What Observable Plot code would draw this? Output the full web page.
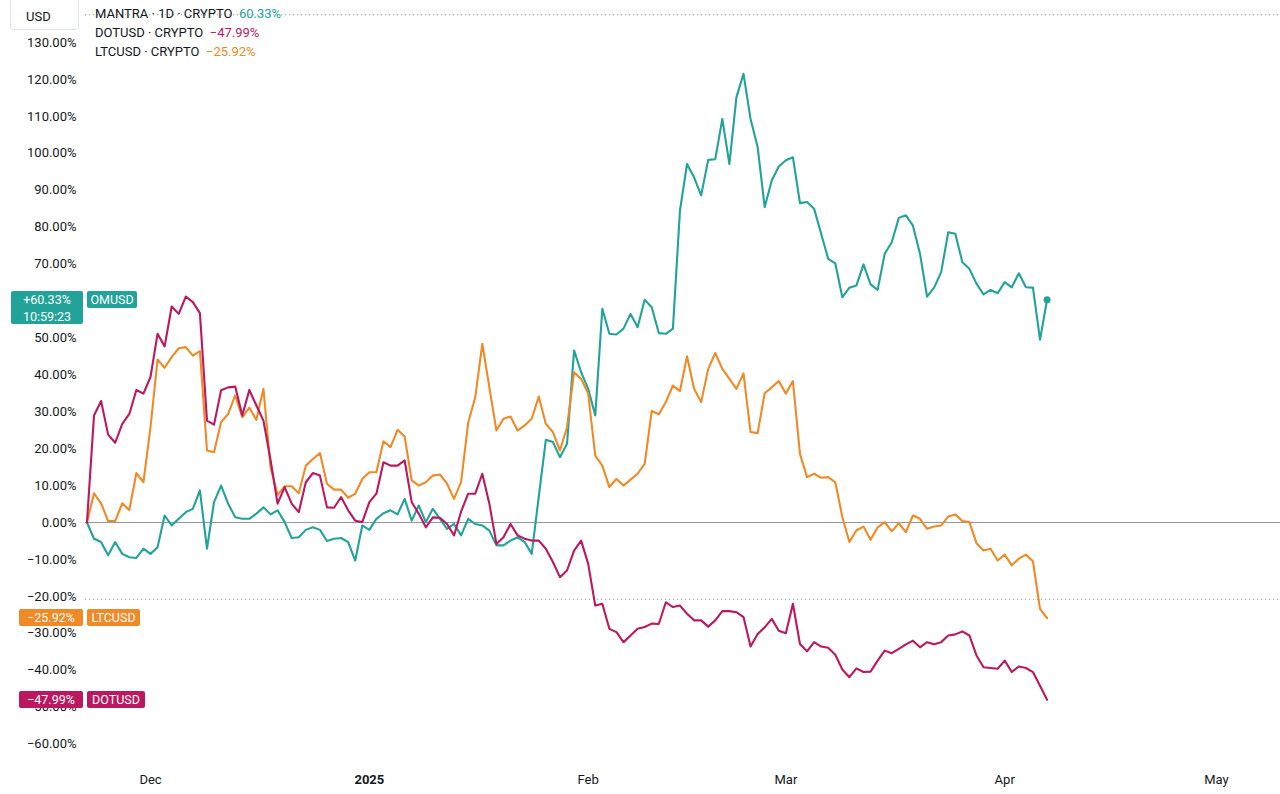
<!DOCTYPE html>
<html>
<head>
<meta charset="utf-8">
<script src="https://cdn.jsdelivr.net/npm/d3@7"></script>
<script src="https://cdn.jsdelivr.net/npm/@observablehq/plot@0.6"></script>
<style>
  html, body { margin: 0; padding: 0; background: #fff; }
  #wrap { position: relative; width: 1280px; height: 794px; overflow: hidden; font-family: Roboto, "Liberation Sans", sans-serif; color: #131722; }
  .lbl { position: absolute; color: #fff; font-size: 12.5px; text-align: center; border-radius: 2px; line-height: 17px; height: 17px; }
  .leg { position: absolute; left: 95px; font-size: 13px; white-space: pre; line-height: 16px; }
  #usd { position: absolute; left: 10px; top: -4px; width: 69px; height: 34px; border: 1px solid #e0e3eb; border-radius: 4px; font-size: 13px; line-height: 40px; padding-left: 15px; box-sizing: border-box; background: #fff; }
</style>
</head>
<body>
<div id="wrap"></div>
<script>
// ---- data (percent change since 2024-11-22, daily) ----
const startDate = "2024-11-22";
const seriesNames = ["OMUSD", "LTCUSD", "DOTUSD"];
const seriesColors = ["#22a39a", "#ef8a26", "#bc1860"];

const omValues = [0,-4.4,-5.3,-8.9,-5.3,-8.5,-9.4,-9.6,-7.1,-8.5,-6.7,1.9,-0.8,1,2.8,3.7,8.7,-7.1,5.5,10,5.1,1.4,1,1,2.4,4.1,2.2,3.3,0.1,-4.2,-4,-2,-1.3,-2,-5,-4.4,-4.2,-5.3,-10.3,-0.8,-2,1,2.5,3.3,2.2,6.4,0.5,4.6,0.1,3.7,1,-1.7,-0.4,-3.5,1,-0.4,-0.8,-2.2,-6.2,-6.2,-4.9,-4,-5.3,-8.5,7,22.4,21.8,17.7,21.3,46.6,40.7,36.2,29,57.9,51.1,50.9,52.5,56.5,52.9,60.3,58.3,51.3,51.1,52.5,84.5,97.1,93.5,88.6,98.2,98.4,109.3,97.1,115.2,121.5,109.3,101.7,85.4,92.6,96.4,98.1,98.9,86.5,86.8,85,78.2,71.4,70.2,61,63.6,64.2,69.9,64.5,63,72.8,75.9,82.5,83.2,80.4,72.8,61.2,63.6,67.8,78.6,78.2,70.5,68.7,64.7,61.8,63,62.1,65.1,63.7,67.5,63.7,63.6,49.5,60.33];

const ltcValues = [0,7.9,5.2,0.4,0.4,5.2,3.4,13.4,10.9,25.8,44.1,41.9,44.8,47.2,47.5,45.2,46.4,19.5,19,27.2,29.4,34.4,28.5,31.1,27.8,36.2,15,7.5,9.8,9.8,7.9,15.4,17.2,18.8,10.5,8.9,8.9,6.7,7.8,11.8,13.6,13.6,22,20.4,25.1,23.3,11.4,10,10.9,12.7,13,10.5,6.4,11,27,33.9,48.4,36.6,24.9,28.1,28.7,24.9,26.3,28.1,34.1,26.7,24.5,19.5,25.8,40.7,38.9,34.9,18.1,15.4,9.6,11.8,10,11.6,13.2,15.9,30.2,29.3,32.6,37.1,35.6,45,36.2,32.6,41.6,45.9,41.6,38.9,36.2,40.4,24.5,24.2,35,36.6,38.3,34.9,38.3,18.6,12.3,13.2,12.1,12.3,10.9,1.5,-5.3,-2.1,-1.1,-4.7,-1.3,0.1,-2.4,-0.2,-2.6,1.9,1,-1.7,-1.1,-0.8,1.6,2.2,0.4,0.1,-5.6,-7.6,-7.1,-10.3,-8.7,-11.6,-9.8,-8.7,-10.5,-23.4,-25.92];

const dotValues = [0,29,32.9,23.8,21.6,26.7,29.4,35.9,34.9,39.4,51.1,47.7,58.5,56.5,61.2,59.7,56.7,27.6,26.5,35.8,36.6,36.8,29,35.9,31.7,27.6,17,5.1,9.6,5.1,2.8,10.9,13.4,12.7,4.1,4,6.9,3.3,0.5,0.1,5.5,7.8,16.3,15.4,15.4,16.8,5.5,2.4,-1.3,1.4,1.3,-0.4,-3.5,3,7.8,7.8,13.2,5.1,-5.8,-4,-0.4,-3.5,-4.4,-4.9,-4.9,-7.1,-10.7,-14.8,-13,-7.6,-4.9,-11.2,-22.5,-22,-28.8,-29.7,-32.4,-30.6,-28.8,-28.3,-27.4,-27.5,-21.6,-22.9,-22.5,-24.7,-26.5,-26.5,-28.2,-26.5,-24,-24,-24.3,-25.6,-33.6,-30.2,-28.4,-26.1,-29.3,-30,-22,-32.9,-34.9,-32.4,-33.6,-33.9,-35.8,-39.8,-41.9,-39.5,-40.5,-40.4,-37.4,-34.7,-35.4,-34.2,-33,-32,-33.8,-32.4,-33,-32.4,-30.6,-30.3,-29.5,-30.6,-36,-39.2,-39.4,-39.6,-37.4,-40.5,-39,-39.4,-40.5,-44.2,-47.99];

// 60.00% is hidden behind the OMUSD price label in the reference
const yTicks = [-60,-50,-40,-30,-20,-10,0,10,20,30,40,50,70,80,90,100,110,120,130];
const xTicks = ["2024-12-01","2025-02-01","2025-03-01","2025-04-01","2025-05-01"];
const xYearTick = ["2025-01-01"];
const xYearLabel = "2025";
const dottedLevels = [137.5, -20.8];
const countdown = "10:59:23";
const legendLines = [
  {prefix: "MANTRA · 1D · CRYPTO", name: "OMUSD"},
  {prefix: "DOTUSD · CRYPTO", name: "DOTUSD"},
  {prefix: "LTCUSD · CRYPTO", name: "LTCUSD"}
];

// ---- build table ----
const allValues = [omValues, ltcValues, dotValues];
const t0 = new Date(startDate + "T00:00:00Z");
const dates = omValues.map((_, i) => d3.utcDay.offset(t0, i));
const rows = [];
allValues.forEach((vals, s) => vals.forEach((v, i) => rows.push({date: dates[i], value: v, series: seriesNames[s]})));
const last = seriesNames.map((n, s) => ({series: n, date: dates[dates.length - 1], value: allValues[s][allValues[s].length - 1], color: seriesColors[s]}));
const colorOf = Object.fromEntries(seriesNames.map((n, i) => [n, seriesColors[i]]));

const fmtPct = v => (v < 0 ? "\u2212" : "") + Math.abs(v).toFixed(2) + "%";
const fmtSigned = v => (v < 0 ? "\u2212" : "+") + Math.abs(v).toFixed(2) + "%";

const W = 1280, H = 794;
const chart = Plot.plot({
  width: W,
  height: H,
  marginLeft: 85,
  marginRight: 0,
  marginTop: 0,
  marginBottom: 30,
  style: {fontFamily: "Roboto, 'Liberation Sans', sans-serif", fontSize: "13px", color: "#131722", background: "#fff"},
  x: {type: "utc", label: null, domain: [new Date("2024-12-01T00:00:00Z"), new Date("2025-05-01T00:00:00Z")], range: [150, 1216]},
  y: {label: null, domain: [0, 130], range: [522, 42]},
  marks: [
    Plot.ruleY(dottedLevels, {stroke: "#9598a1", strokeWidth: 1, strokeDasharray: "1.2,2.8"}),
    Plot.ruleY([last[0].value], {x1: 140, stroke: seriesColors[0], strokeWidth: 1, strokeDasharray: "1.2,2.8"}),
    Plot.ruleY([0], {stroke: "#9598a1", strokeWidth: 1}),
    Plot.lineY(rows, {x: "date", y: "value", z: "series", stroke: d => colorOf[d.series], strokeWidth: 2.1, strokeLinejoin: "round"}),
    Plot.dot([last[0]], {x: "date", y: "value", r: 3.5, fill: seriesColors[0]}),
    Plot.axisY(yTicks, {anchor: "left", label: null, tickSize: 0, tickPadding: 9, tickFormat: fmtPct, fill: "#131722", fontSize: 13}),
    Plot.axisX(xTicks.map(d => new Date(d + "T00:00:00Z")), {anchor: "bottom", label: null, tickSize: 0, tickPadding: 10, tickFormat: d3.utcFormat("%b"), fill: "#131722", fontSize: 13}),
    Plot.axisX(xYearTick.map(d => new Date(d + "T00:00:00Z")), {anchor: "bottom", label: null, tickSize: 0, tickPadding: 10, tickFormat: () => xYearLabel, fill: "#131722", fontSize: 13, fontWeight: "bold"})
  ]
});

const wrap = document.getElementById("wrap");
chart.style.position = "absolute";
chart.style.left = "0px";
chart.style.top = "0px";
wrap.appendChild(chart);

const yS = chart.scale("y");

// currency box
const usd = document.createElement("div");
usd.id = "usd"; usd.textContent = "USD";
wrap.appendChild(usd);

// legend
legendLines.forEach((l, i) => {
  const d = document.createElement("div");
  d.className = "leg";
  d.style.top = (6 + i * 19) + "px";
  const s = last.find(e => e.series === l.name);
  const txt = (l.name === "OMUSD" ? Math.abs(s.value).toFixed(2) + "%" : fmtPct(s.value));
  d.innerHTML = l.prefix + "  <span style='color:" + s.color + "'>" + txt + "</span>";
  wrap.appendChild(d);
});

// price labels on the left
function addBox(left, top, width, height, color, html) {
  const b = document.createElement("div");
  b.className = "lbl";
  b.style.left = left + "px"; b.style.top = top + "px";
  b.style.width = width + "px"; b.style.height = height + "px";
  b.style.background = color;
  b.innerHTML = html;
  wrap.appendChild(b);
}
last.forEach(s => {
  const yy = yS.apply(s.value);
  if (s.series === "OMUSD") {
    addBox(11, yy - 8.5, 72, 33, s.color, fmtSigned(s.value) + "<br>" + countdown);
    addBox(87, yy - 8.5, 50, 17, s.color, s.series);
  } else {
    addBox(19, yy - 8.5, 64, 17, s.color, fmtPct(s.value));
    addBox(87, yy - 8.5, s.series === "LTCUSD" ? 53 : 58, 17, s.color, s.series);
  }
});
</script>
</body>
</html>
